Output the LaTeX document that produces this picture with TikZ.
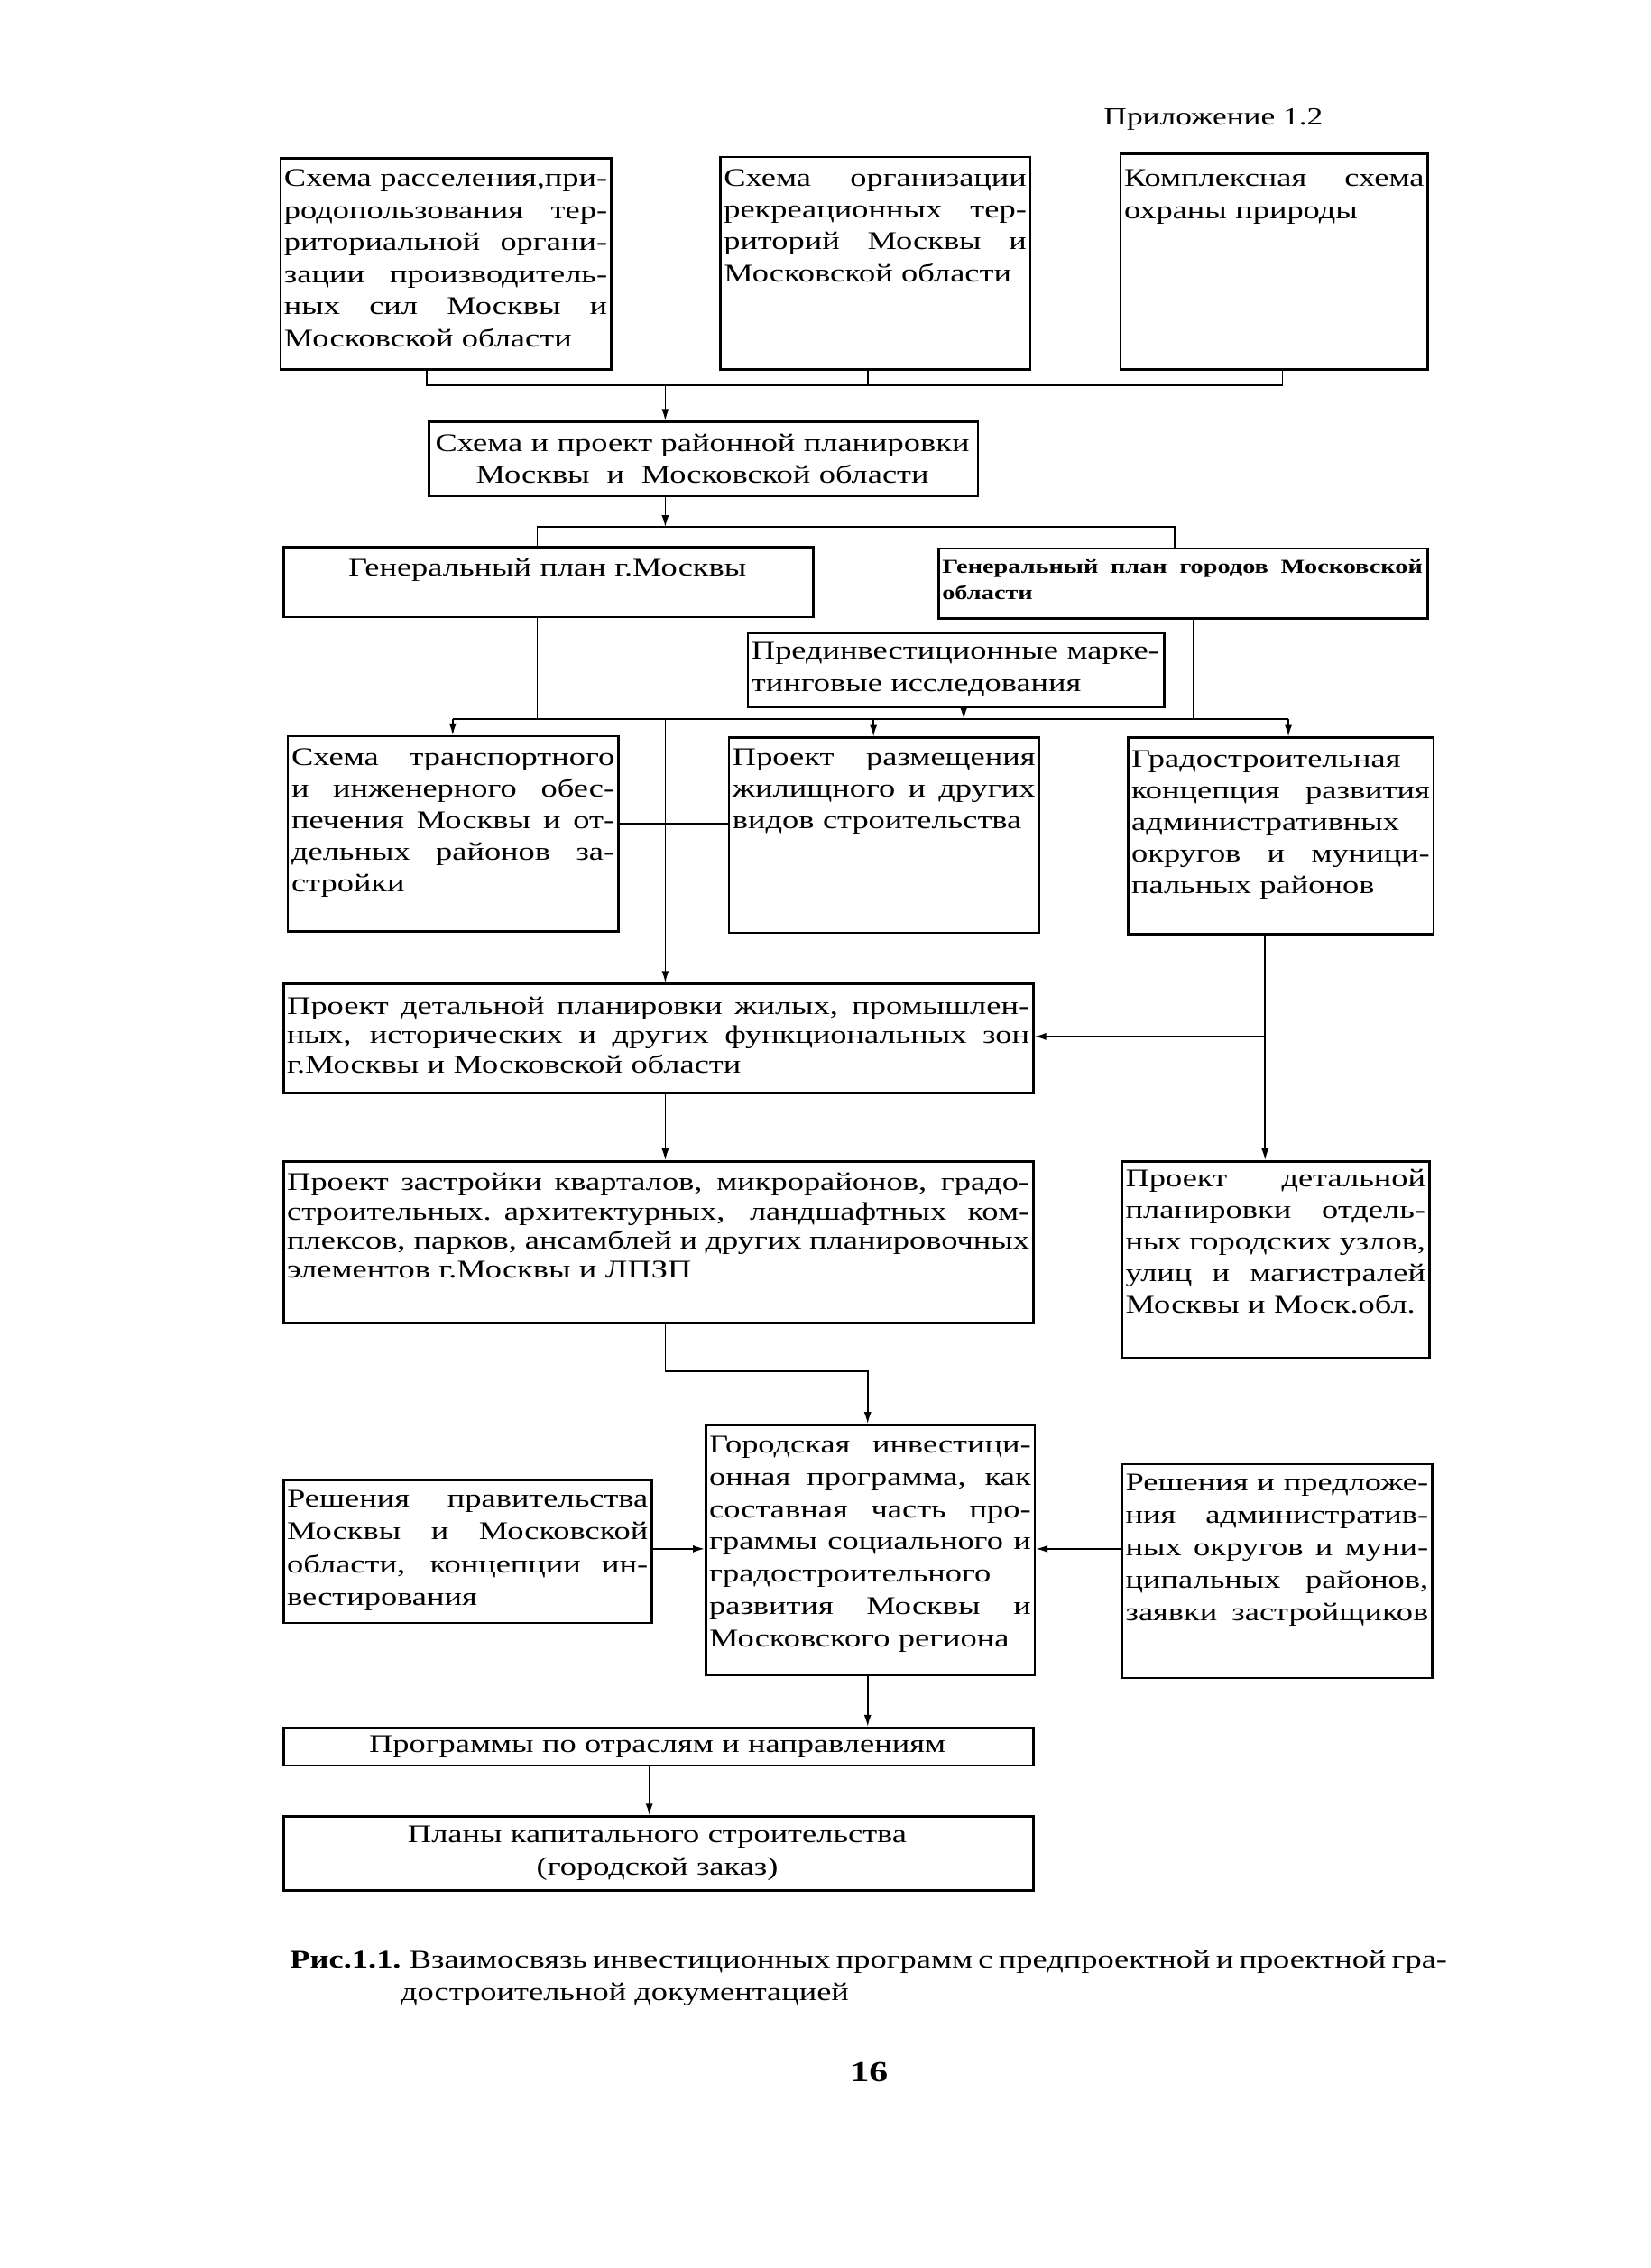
\documentclass[tikz,border=0pt]{standalone}
\usepackage{fontspec}
\setmainfont{Liberation Serif}[FakeStretch=1.29]
\usetikzlibrary{arrows.meta}
\newlength\jw
\newcommand\J[1]{\leavevmode\hbox to \jw{\spaceskip=.22em plus 1fil\relax #1}}
\tikzset{
 box/.style={draw, line width=1.6pt, rectangle, inner sep=0pt, anchor=north west},
 txt/.style={inner sep=0pt, anchor=base west, align=left, font=\fontsize{17.5}{#1}\selectfont},
 txt/.default=22,
 tw/.style={text width=#1pt, execute at begin node={\setlength{\jw}{#1pt}}},
 ctxt/.style={inner sep=0pt, anchor=base, align=center, font=\fontsize{17.5}{#1}\selectfont},
 ctxt/.default=22,
 link/.style={line width=1pt},
 arr/.style={line width=1pt, -{Latex[length=8pt,width=5pt]}},
 thick link/.style={line width=1.8pt},
}
\begin{document}
\begin{tikzpicture}[x=1pt,y=-1pt]
\useasboundingbox (0,0) rectangle (1134,1558);
% header
\node[anchor=base east, inner sep=0pt, font=\fontsize{17}{18}\selectfont] (hdr) at (909,86) {Приложение 1.2};
% row 1
\node[box, minimum width=227pt, minimum height=145pt] (bA) at (192,108) {};
\node[txt, tw=222] (tA) at (195,128) {\J{Схема расселения,при-}\\\J{родопользования тер-}\\\J{риториальной органи-}\\\J{зации производитель-}\\\J{ных сил Москвы и}\\Московской области};
\node[box, minimum width=213pt, minimum height=146pt] (bB) at (494,107) {};
\node[txt=21.8, tw=208] (tB) at (497,128) {\J{Схема организации}\\\J{рекреационных тер-}\\\J{риторий Москвы и}\\Московской области};
\node[box, minimum width=211pt, minimum height=148pt] (bC) at (769,105) {};
\node[txt, tw=206] (tC) at (772,128) {\J{Комплексная схема}\\охраны природы};
% D
\node[box, minimum width=377pt, minimum height=51pt] (bD) at (294,289) {};
\node[ctxt, text width=371pt] (tD) at (482.5,310) {Схема и проект районной планировки\\Москвы~ и~ Московской области};
% E F G
\node[box, minimum width=364pt, minimum height=48pt] (bE) at (194,375) {};
\node[ctxt, text width=358pt] (tE) at (376,396) {Генеральный план г.Москвы};
\node[box, minimum width=336pt, minimum height=48pt] (bF) at (644,376) {};
\node[inner sep=0pt, anchor=base west, align=left, font=\fontsize{13.6}{18}\selectfont\bfseries, tw=330] (tF) at (647,394) {\J{Генеральный план городов Московской}\\области};
\node[box, minimum width=286pt, minimum height=51pt] (bG) at (513,434) {};
\node[txt, tw=281] (tG) at (516,453) {Прединвестиционные марке-\\тинговые исследования};
% H I J
\node[box, minimum width=227pt, minimum height=134pt] (bH) at (197,505) {};
\node[txt=21.7, tw=222] (tH) at (200,526) {\J{Схема транспортного}\\\J{и инженерного обес-}\\\J{печения Москвы и от-}\\\J{дельных районов за-}\\стройки};
\node[box, minimum width=213pt, minimum height=134pt] (bI) at (500,506) {};
\node[txt=21.7, tw=208] (tI) at (503,526) {\J{Проект размещения}\\\J{жилищного и других}\\видов строительства};
\node[box, minimum width=210pt, minimum height=135pt] (bJ) at (774,506) {};
\node[txt=21.7, tw=205] (tJ) at (777,527) {Градостроительная\\\J{концепция развития}\\административных\\\J{округов и муници-}\\пальных районов};
% K L M
\node[box, minimum width=515pt, minimum height=75pt] (bK) at (194,675) {};
\node[txt=20, tw=510] (tK) at (197,697) {\J{Проект детальной планировки жилых, промышлен-}\\\J{ных, исторических и других функциональных зон}\\г.Москвы и Московской области};
\node[box, minimum width=515pt, minimum height=111pt] (bL) at (194,797) {};
\node[txt=20, tw=510] (tL) at (197,818) {\J{Проект застройки кварталов, микрорайонов, градо-}\\\J{строительных. архитектурных, ландшафтных ком-}\\\J{плексов, парков, ансамблей и других планировочных}\\элементов г.Москвы и ЛПЗП};
\node[box, minimum width=211pt, minimum height=135pt] (bM) at (770,797) {};
\node[txt=21.8, tw=206] (tM) at (773,815) {\J{Проект детальной}\\\J{планировки отдель-}\\\J{ных городских узлов,}\\\J{улиц и магистралей}\\Москвы и Моск.обл.};
% N O P
\node[box, minimum width=226pt, minimum height=172pt] (bN) at (484,978) {};
\node[txt=22.2, tw=221] (tN) at (487,998) {\J{Городская инвестици-}\\\J{онная программа, как}\\\J{составная часть про-}\\\J{граммы социального и}\\градостроительного\\\J{развития Москвы и}\\Московского региона};
\node[box, minimum width=253pt, minimum height=98pt] (bO) at (194,1016) {};
\node[txt=22.7, tw=248] (tO) at (197,1035) {\J{Решения правительства}\\\J{Москвы и Московской}\\\J{области, концепции ин-}\\вестирования};
\node[box, minimum width=213pt, minimum height=147pt] (bP) at (770,1005) {};
\node[txt=22.3, tw=208] (tP) at (773,1024) {\J{Решения и предложе-}\\\J{ния административ-}\\\J{ных округов и муни-}\\\J{ципальных районов,}\\\J{заявки застройщиков}};
% Q R
\node[box, minimum width=515pt, minimum height=26pt] (bQ) at (194,1186) {};
\node[ctxt, text width=509pt] (tQ) at (451.5,1204) {Программы по отраслям и направлениям};
\node[box, minimum width=515pt, minimum height=51pt] (bR) at (194,1247) {};
\node[ctxt, text width=509pt] (tR) at (451.5,1266) {Планы капитального строительства\\(городской заказ)};
% caption
\node[anchor=base west, inner sep=0pt, font=\fontsize{17.5}{22}\selectfont] (cap1) at (199,1352) {\setlength{\jw}{792pt}\J{\textbf{Рис.1.1.} Взаимосвязь инвестиционных программ с предпроектной и проектной гра-}};
\node[anchor=base west, inner sep=0pt, font=\fontsize{17.5}{22}\selectfont] (cap2) at (275,1374) {достроительной документацией};
\node[anchor=base, inner sep=0pt, font=\fontsize{20}{22}\selectfont\bfseries] (pg) at (597,1430) {16};
% connectors
\coordinate (jA) at (293,264.5);
\coordinate (jB) at (596,264.5);
\coordinate (jC) at (881,264.5);
\coordinate (jD) at (457,264.5);
\draw[link] (jA |- bA.south) -- (jA) -- (jC) -- (jC |- bC.south);
\draw[link] (jB |- bB.south) -- (jB);
\draw[arr] (jD) -- (jD |- bD.north);
\coordinate (jE) at (369,362);
\coordinate (jF) at (807,362);
\coordinate (jDs) at (457,362);
\draw[arr] (jDs |- bD.south) -- (jDs);
\draw[link] (jE |- bE.north) -- (jE) -- (jF) -- (jF |- bF.north);
\coordinate (kE) at (369,494);
\coordinate (kF) at (820,494);
\coordinate (kG) at (662,494);
\coordinate (kH) at (311,494);
\coordinate (kI) at (600,494);
\coordinate (kJ) at (885,494);
\coordinate (kK) at (457,494);
\draw[link] (kE |- bE.south) -- (kE);
\draw[link] (kF |- bF.south) -- (kF);
\draw[arr] (kG |- bG.south) -- (kG);
\draw[link] (kH) -- (kJ);
\draw[arr] (kH) -- (kH |- bH.north);
\draw[arr] (kI) -- (kI |- bI.north);
\draw[arr] (kJ) -- (kJ |- bJ.north);
\draw[arr] (kK) -- (kK |- bK.north);
\coordinate (mHI) at (460,566);
\draw[thick link] (mHI -| bH.east) -- (mHI -| bI.west);
\coordinate (kJs) at (869,712);
\draw[arr] (kJs |- bJ.south) -- (kJs |- bM.north);
\draw[arr] (kJs) -- (kJs -| bK.east);
\draw[arr] (kK |- bK.south) -- (kK |- bL.north);
\coordinate (lL) at (457,942);
\coordinate (lN) at (596,942);
\draw[arr] (lL |- bL.south) -- (lL) -- (lN) -- (lN |- bN.north);
\coordinate (mN) at (600,1064);
\draw[arr] (mN -| bO.east) -- (mN -| bN.west);
\draw[arr] (mN -| bP.west) -- (mN -| bN.east);
\coordinate (nN) at (596,1168);
\draw[arr] (nN |- bN.south) -- (nN |- bQ.north);
\coordinate (qQ) at (446,1230);
\draw[arr] (qQ |- bQ.south) -- (qQ |- bR.north);
\end{tikzpicture}
\end{document}
